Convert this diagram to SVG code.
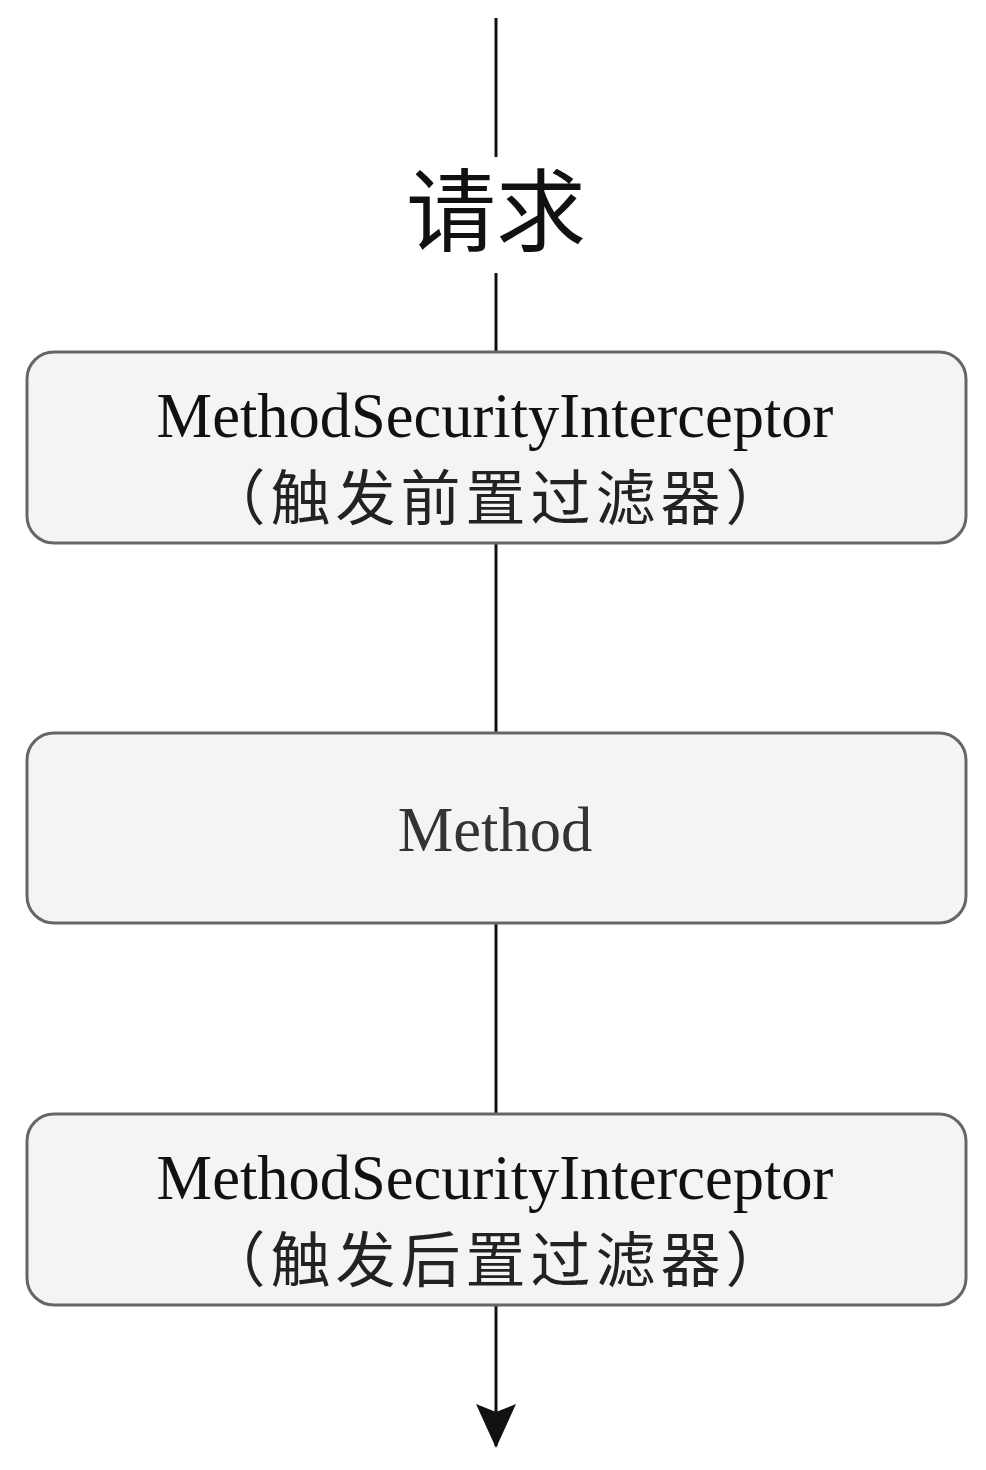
<svg xmlns="http://www.w3.org/2000/svg" width="986" height="1470" viewBox="0 0 986 1470">
<style>
.box{fill:#f4f4f4;stroke:#666;stroke-width:3}
.en{font-family:"Liberation Serif","Noto Sans CJK SC",serif;font-size:62.5px;fill:#111;text-anchor:middle}
.zh{font-family:"Liberation Serif","Noto Sans CJK SC",serif;font-size:60px;fill:#222;text-anchor:middle;letter-spacing:5px}
.ln{stroke:#111;stroke-width:3;fill:none}
</style>
<defs>
<marker id="arr" viewBox="0 0 44 40" refX="42" refY="20" markerWidth="44" markerHeight="40" markerUnits="userSpaceOnUse" orient="auto">
<path d="M0,0 L8,20 L0,40 L44,20 Z" fill="#111"/>
</marker>
</defs>
<g id="connectors">
<line class="ln" x1="496" y1="18" x2="496" y2="157"/>
<line class="ln" x1="496" y1="273" x2="496" y2="352"/>
<line class="ln" x1="496" y1="543" x2="496" y2="733"/>
<line class="ln" x1="496" y1="923" x2="496" y2="1114"/>
<line class="ln" x1="496" y1="1305" x2="496" y2="1446" marker-end="url(#arr)"/>
</g>
<g id="label-request">
<text x="496" y="244" style="font-family:'Noto Sans CJK SC',sans-serif;font-size:90px;fill:#111;text-anchor:middle">请求</text>
</g>
<g id="node-pre">
<rect class="box" x="27" y="352" width="939" height="191" rx="27"/>
<text class="en" x="495" y="437">MethodSecurityInterceptor</text>
<text class="zh" x="498" y="520">（触发前置过滤器）</text>
</g>
<g id="node-method">
<rect class="box" x="27" y="733" width="939" height="190" rx="27"/>
<text class="en" x="495" y="851" style="fill:#333">Method</text>
</g>
<g id="node-post">
<rect class="box" x="27" y="1114" width="939" height="191" rx="27"/>
<text class="en" x="495" y="1199">MethodSecurityInterceptor</text>
<text class="zh" x="498" y="1282">（触发后置过滤器）</text>
</g>
</svg>
